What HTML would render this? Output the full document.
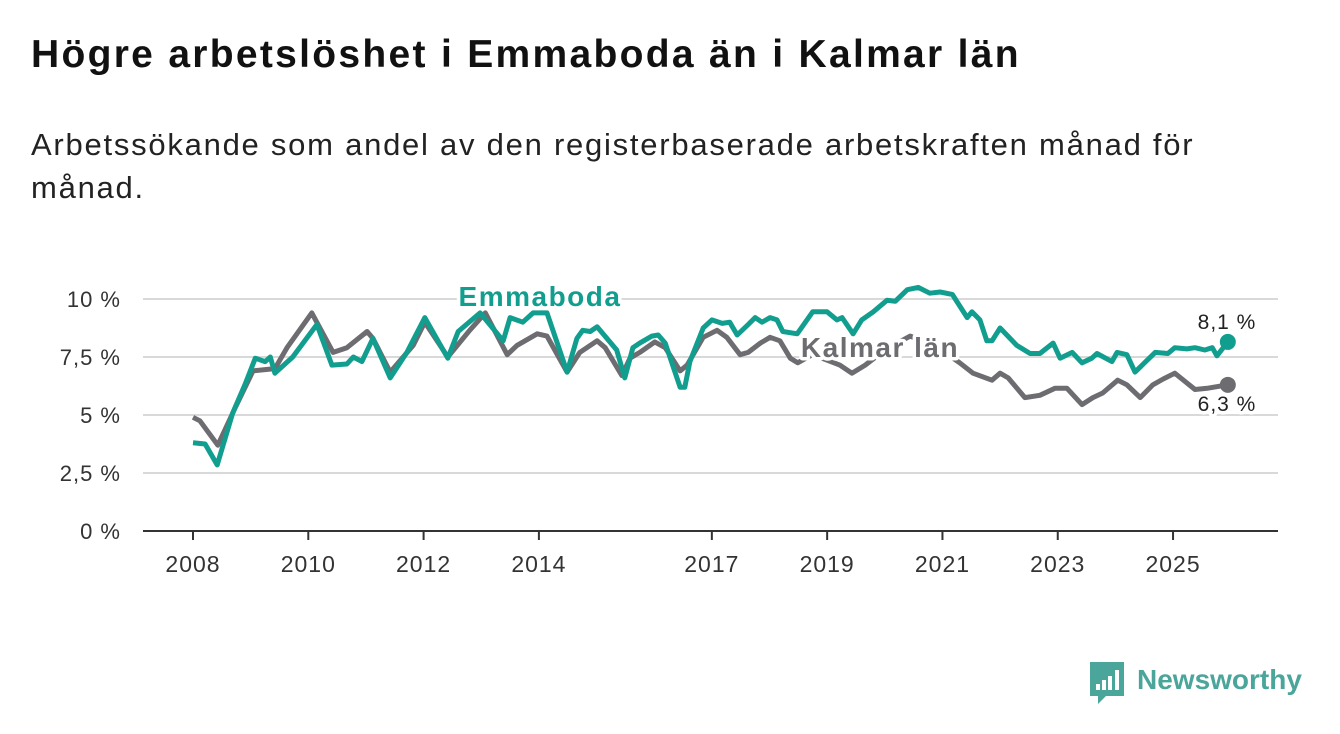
<!DOCTYPE html>
<html><head><meta charset="utf-8"><style>
body{margin:0;background:#fff;width:1340px;height:734px;overflow:hidden;font-family:"Liberation Sans",sans-serif;}
h1{position:absolute;left:31px;top:33px;margin:0;font-size:39px;letter-spacing:2.3px;font-weight:bold;color:#111;}
.sub{position:absolute;left:31px;top:123px;width:1290px;font-size:31px;letter-spacing:1.75px;line-height:43px;color:#222;margin:0;}
svg{position:absolute;left:0;top:0;}
</style></head><body>
<h1>Högre arbetslöshet i Emmaboda än i Kalmar län</h1>
<p class="sub">Arbetssökande som andel av den registerbaserade arbetskraften månad för<br>månad.</p>
<svg id="chart" width="1340" height="734"></svg>
<script>
const yTicks=[0,2.5,5,7.5,10];
const yTickLabels=["0 %","2,5 %","5 %","7,5 %","10 %"];
const xTicks=[2008,2010,2012,2014,2017,2019,2021,2023,2025];
const emmT=[2008.0,2008.21,2008.42,2008.69,2008.9,2009.08,2009.25,2009.34,2009.42,2009.73,2010.15,2010.41,2010.67,2010.78,2010.93,2011.12,2011.42,2011.71,2012.02,2012.42,2012.6,2012.98,2013.38,2013.5,2013.72,2013.9,2014.14,2014.49,2014.66,2014.76,2014.89,2015.01,2015.35,2015.49,2015.63,2015.75,2015.96,2016.07,2016.19,2016.45,2016.53,2016.62,2016.85,2017.0,2017.18,2017.31,2017.44,2017.63,2017.75,2017.87,2018.01,2018.13,2018.23,2018.48,2018.75,2019.0,2019.17,2019.26,2019.45,2019.6,2019.8,2020.04,2020.18,2020.39,2020.58,2020.78,2020.96,2021.17,2021.43,2021.51,2021.65,2021.77,2021.86,2022.0,2022.29,2022.52,2022.69,2022.92,2023.04,2023.25,2023.42,2023.59,2023.68,2023.94,2024.03,2024.2,2024.34,2024.69,2024.91,2025.03,2025.24,2025.38,2025.55,2025.68,2025.76,2025.95];
const emmV=[3.8,3.75,2.85,5.1,6.3,7.45,7.3,7.5,6.8,7.5,8.9,7.15,7.2,7.5,7.3,8.3,6.6,7.7,9.2,7.45,8.6,9.4,8.2,9.2,9.0,9.4,9.4,6.85,8.3,8.65,8.6,8.8,7.8,6.6,7.9,8.1,8.4,8.45,8.1,6.2,6.2,7.3,8.75,9.1,8.95,9.0,8.45,8.9,9.2,9.0,9.2,9.1,8.6,8.5,9.45,9.45,9.1,9.2,8.5,9.1,9.45,9.95,9.9,10.4,10.5,10.25,10.3,10.2,9.2,9.45,9.1,8.2,8.2,8.75,8.0,7.65,7.65,8.1,7.45,7.7,7.25,7.45,7.65,7.3,7.7,7.6,6.85,7.7,7.65,7.9,7.85,7.9,7.8,7.9,7.55,8.15];
const kalT=[2008.0,2008.12,2008.43,2008.73,2009.04,2009.42,2009.63,2010.06,2010.43,2010.67,2011.02,2011.12,2011.42,2011.82,2012.02,2012.42,2012.8,2013.07,2013.45,2013.62,2013.97,2014.14,2014.49,2014.71,2015.01,2015.15,2015.44,2015.58,2015.75,2016.01,2016.19,2016.45,2016.57,2016.85,2017.09,2017.26,2017.49,2017.63,2017.84,2018.01,2018.18,2018.36,2018.49,2018.74,2018.96,2019.22,2019.43,2019.66,2020.0,2020.44,2020.87,2021.3,2021.53,2021.86,2022.0,2022.14,2022.43,2022.69,2022.95,2023.16,2023.42,2023.61,2023.78,2024.04,2024.2,2024.43,2024.65,2024.83,2025.03,2025.38,2025.59,2025.95];
const kalV=[4.9,4.75,3.7,5.3,6.9,7.0,7.9,9.4,7.7,7.9,8.6,8.3,6.85,8.0,9.0,7.5,8.65,9.4,7.6,8.0,8.5,8.4,6.85,7.7,8.2,7.9,6.7,7.45,7.7,8.15,7.9,6.9,7.15,8.35,8.65,8.35,7.6,7.7,8.1,8.35,8.2,7.45,7.25,7.6,7.4,7.15,6.8,7.15,7.8,8.4,8.0,7.25,6.8,6.5,6.8,6.6,5.75,5.85,6.15,6.15,5.45,5.75,5.95,6.5,6.3,5.75,6.3,6.55,6.8,6.1,6.15,6.3];
const emmLast="8,1 %", kalLast="6,3 %";

const NS="http://www.w3.org/2000/svg";
const svg=document.getElementById('chart');
const X=t=>193+(t-2008)*57.65;
const Y=v=>531-v*23.2;
function mk(tag,attrs,parent){const e=document.createElementNS(NS,tag);for(const k in attrs)e.setAttribute(k,attrs[k]);(parent||svg).appendChild(e);return e;}
yTicks.forEach((v,i)=>{
  const g=mk('line',{x1:143,x2:1278,y1:Y(v),y2:Y(v),stroke:v===0?'#333':'#d9d9d9','stroke-width':2});
  
  
  const t=mk('text',{x:121,y:Y(v)+8,'text-anchor':'end','font-size':22,'letter-spacing':1,fill:'#333'});
  t.textContent=yTickLabels[i];
  
  
});
xTicks.forEach(yr=>{
  const l=mk('line',{x1:X(yr),x2:X(yr),y1:531,y2:540,stroke:'#333','stroke-width':2});
  
  
  const t=mk('text',{x:X(yr),y:572,'text-anchor':'middle','font-size':23,'letter-spacing':1,fill:'#333'});
  t.textContent=yr;
  
  
});
function line(T,V,color,name){
  const d=T.map((t,i)=>(i?'L':'M')+X(t).toFixed(1)+','+Y(V[i]).toFixed(1)).join('');
  const p=mk('path',{d:d,fill:'none',stroke:color,'stroke-width':5,'stroke-linejoin':'round'});
  
  
  const c=mk('circle',{cx:X(T[T.length-1]),cy:Y(V[V.length-1]),r:8,fill:color});
  
  
}
line(kalT,kalV,'#6d6c71','kalmar-line');
line(emmT,emmV,'#129e8f','emmaboda-line');
function label(x,y,txt,color,size,weight,ls,name){
  const t=mk('text',{x:x,y:y,'text-anchor':'middle','font-size':size,'font-weight':weight,'letter-spacing':ls,fill:color,stroke:'#fff','stroke-width':7,'paint-order':'stroke','stroke-linejoin':'round'});
  t.textContent=txt;
  
  
}
label(540,306,'Emmaboda','#129e8f',28,'bold',1.5,'emmaboda-label');
label(880,357,'Kalmar län','#6d6c71',28,'bold',1.5,'kalmar-label');
label(1227,329,emmLast,'#222',21,'normal',1,'emmaboda-last-value');
label(1227,411,kalLast,'#222',21,'normal',1,'kalmar-last-value');
const lg=mk('g',{});


mk('path',{d:'M1090,662 h34 v34 h-18 l-8,8 v-8 h-8 z',fill:'#4aa59b'},lg);
[[1096,684,4,6],[1102,680,4,10],[1108,676,4,14],[1115,670,4,20]].forEach(b=>mk('rect',{x:b[0],y:b[1],width:b[2],height:b[3],fill:'#fff'},lg));
const lt=mk('text',{x:1137,y:689,'font-size':28,'font-weight':'bold',fill:'#4aa59b'},lg);
lt.textContent='Newsworthy';
</script>
</body></html>
